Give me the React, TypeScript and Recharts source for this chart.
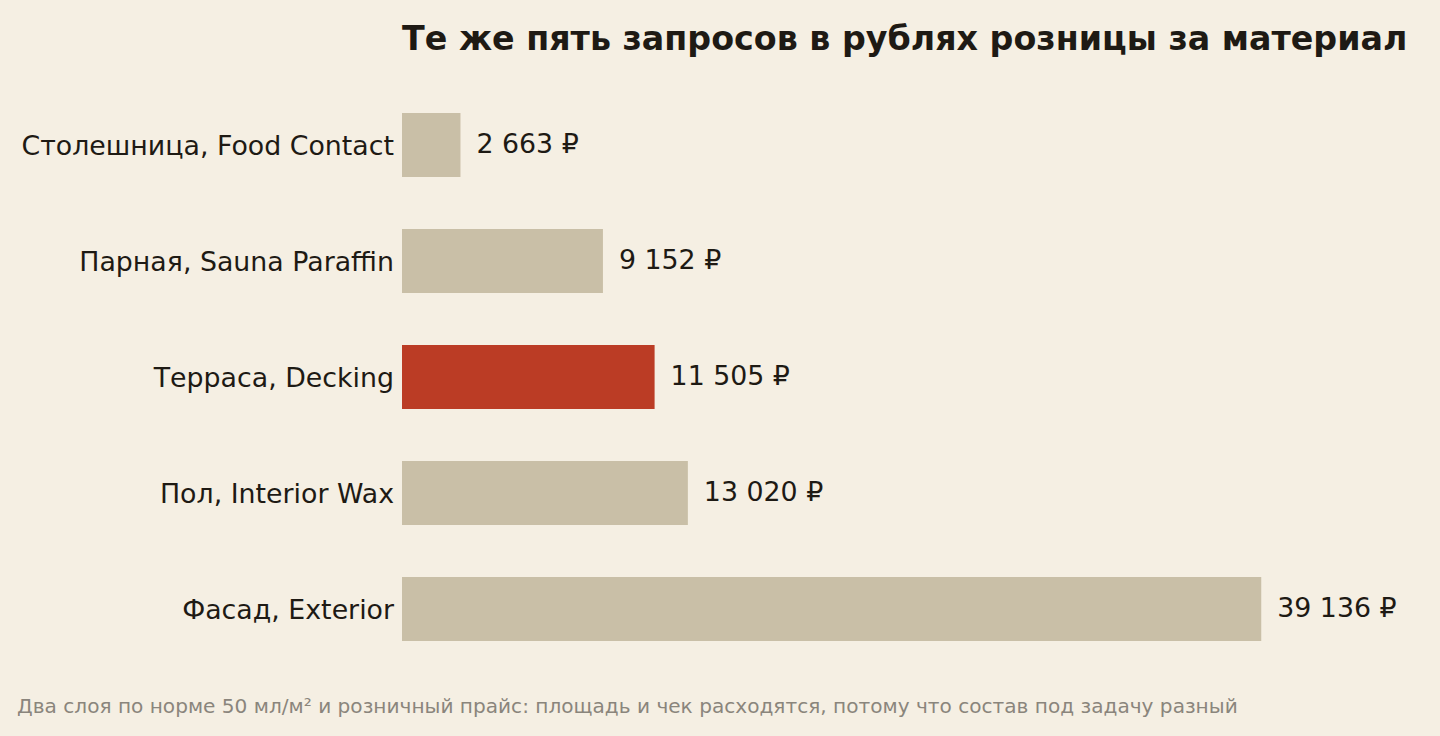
import React from "react";
import { BarChart, Bar, XAxis, YAxis, Cell, LabelList } from "recharts";

const categories = [
  "Столешница, Food Contact",
  "Парная, Sauna Paraffin",
  "Терраса, Decking",
  "Пол, Interior Wax",
  "Фасад, Exterior",
];
const rubles = [2663, 9152, 11505, 13020, 39136];
const highlightIndex = 2;

const title = "Те же пять запросов в рублях розницы за материал";
const footnote =
  "Два слоя по норме 50 мл/м² и розничный прайс: площадь и чек расходятся, потому что состав под задачу разный";

const BG = "#F5EFE3";
const BAR = "#C9BFA7";
const ACCENT = "#BB3C25";
const INK = "#1E1A14";
const MUTED = "#8A857C";
const FONT = "'DejaVu Sans', sans-serif";

const data = categories.map((name, i) => ({ name, value: rubles[i] }));

const fmt = (v: number) =>
  String(v).replace(/\B(?=(\d{3})+(?!\d))/g, " ") + " ₽";

export default function App() {
  return (
    <div
      style={{
        position: "absolute",
        left: 0,
        top: 0,
        width: 1440,
        height: 736,
        background: BG,
        fontFamily: FONT,
        overflow: "hidden",
      }}
    >
      <div
        style={{
          position: "absolute",
          left: 402,
          top: 19,
          fontSize: 33.3,
          fontWeight: 700,
          color: INK,
          whiteSpace: "nowrap",
        }}
      >
        {title}
      </div>
      <div style={{ position: "absolute", left: 0, top: 87 }}>
        <BarChart
          width={1440}
          height={580}
          data={data}
          layout="vertical"
          margin={{ top: 0, right: 50, bottom: 0, left: 0 }}
          barCategoryGap={26}
        >
          <XAxis type="number" domain={[0, 45000]} hide />
          <YAxis
            type="category"
            dataKey="name"
            width={402}
            axisLine={false}
            tickLine={false}
            tickMargin={2}
            tick={{ fill: INK, fontSize: 26.8, fontFamily: FONT }}
          />
          <Bar dataKey="value" isAnimationActive={false}>
            {data.map((_, i) => (
              <Cell key={i} fill={i === highlightIndex ? ACCENT : BAR} />
            ))}
            <LabelList
              dataKey="value"
              position="right"
              offset={16}
              dy={-2}
              formatter={(v: number) => fmt(v)}
              style={{ fill: INK, fontSize: 26.8, fontFamily: FONT }}
            />
          </Bar>
        </BarChart>
      </div>
      <div
        style={{
          position: "absolute",
          left: 17,
          top: 694,
          fontSize: 20.1,
          color: MUTED,
          whiteSpace: "nowrap",
        }}
      >
        {footnote}
      </div>
    </div>
  );
}
